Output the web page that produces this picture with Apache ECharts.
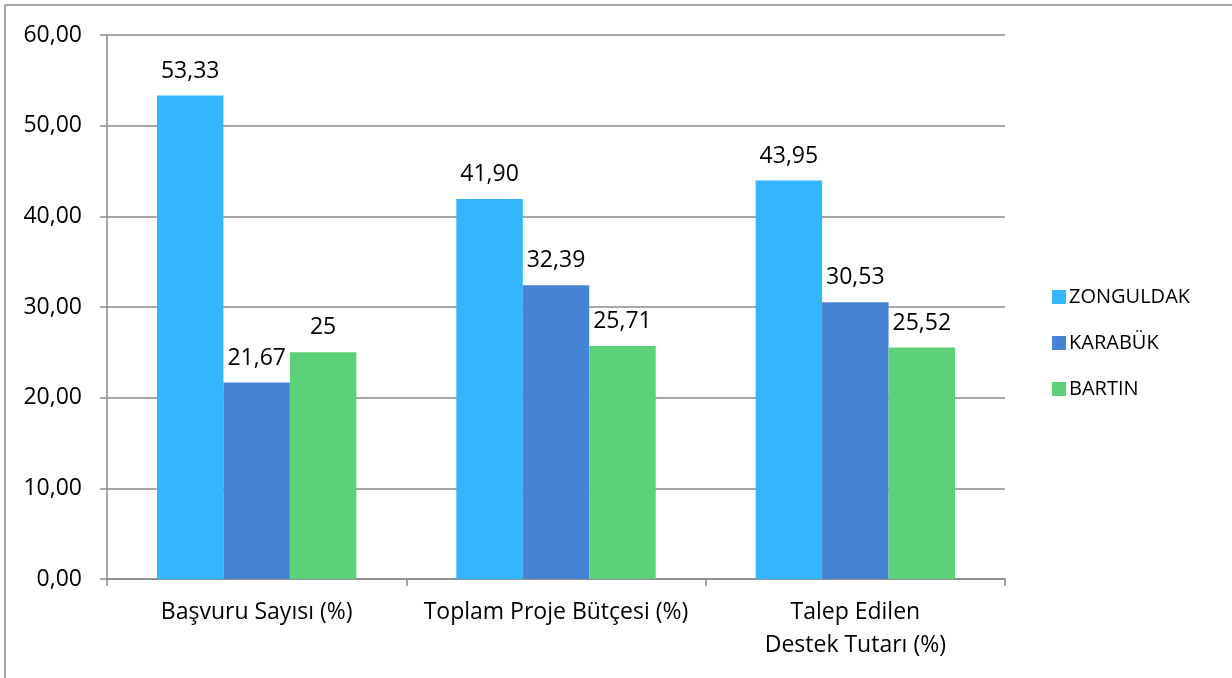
<!DOCTYPE html>
<html><head><meta charset="utf-8">
<script src="https://cdn.jsdelivr.net/npm/echarts@6/dist/echarts.min.js"></script>
<style>html,body{margin:0;padding:0;background:#fff;overflow:hidden}#c{width:1232px;height:678px}</style>
</head><body><div id="c"></div>
<script>
const categories = ['Başvuru Sayısı (%)', 'Toplam Proje Bütçesi (%)', 'Talep Edilen\nDestek Tutarı (%)'];
const seriesNames = ['ZONGULDAK', 'KARABÜK', 'BARTIN'];
const zonguldak = [53.33, 41.90, 43.95];
const karabuk = [21.67, 32.39, 30.53];
const bartin = [25, 25.71, 25.52];
const colors = ['#33B5FF', '#4584D3', '#5BD17A'];
const yTicks = {min: 0, max: 60, interval: 10};

const font = 'Open Sans, Noto Sans, sans-serif';
const fmt = v => Number.isInteger(v) ? String(v) : v.toFixed(2).replace('.', ',');
const chart = echarts.init(document.getElementById('c'));
const data = [zonguldak, karabuk, bartin];
chart.setOption({
  animation: false,
  textStyle: {fontFamily: font},
  grid: {left: 107, right: 227, top: 35, bottom: 99},
  graphic: [
    {type: 'line', shape: {x1: 5, y1: 5, x2: 1232, y2: 5}, style: {stroke: '#8a8a8a', lineWidth: 1.5}},
    {type: 'line', shape: {x1: 5, y1: 5, x2: 5, y2: 678}, style: {stroke: '#8a8a8a', lineWidth: 1.5}}
  ],
  legend: {
    orient: 'vertical', left: 1047, top: 282, itemWidth: 14, itemHeight: 14, itemGap: 26,
    icon: 'rect', data: seriesNames,
    textStyle: {fontSize: 20, color: '#000', fontFamily: font, padding: [0, 0, 0, -2]}
  },
  xAxis: {
    type: 'category', data: categories,
    axisLine: {lineStyle: {color: '#8a8a8a', width: 1.5}},
    axisTick: {show: true, length: 7, lineStyle: {color: '#8a8a8a', width: 1.5}},
    axisLabel: {interval: 0, fontSize: 23, color: '#000', margin: 17, lineHeight: 33, fontFamily: font}
  },
  yAxis: {
    type: 'value', min: yTicks.min, max: yTicks.max, interval: yTicks.interval,
    axisLine: {show: true, lineStyle: {color: '#8a8a8a', width: 1.5}},
    axisTick: {show: true, length: 7, lineStyle: {color: '#8a8a8a', width: 1.5}},
    splitLine: {lineStyle: {color: '#8a8a8a', width: 1.5}},
    axisLabel: {fontSize: 23, color: '#000', margin: 25, fontFamily: font, formatter: v => v.toFixed(2).replace('.', ',')}
  },
  series: seriesNames.map((n, i) => ({
    name: n, type: 'bar', data: data[i], barGap: '0%', barCategoryGap: '33.4%',
    itemStyle: {color: colors[i]},
    label: {show: true, position: 'top', distance: 13, fontSize: 23, color: '#000', fontFamily: font,
      formatter: p => fmt(p.value)}
  }))
});
</script></body></html>
